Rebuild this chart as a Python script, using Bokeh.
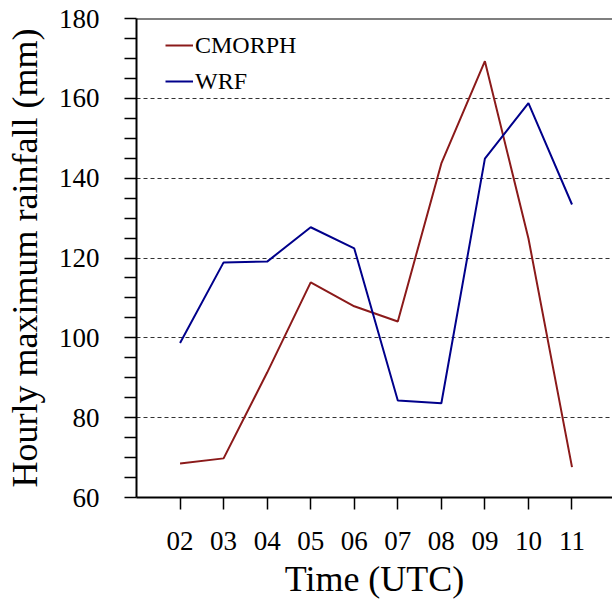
from bokeh.plotting import figure
from bokeh.models import (Range1d, FixedTicker, Legend, LegendItem, Span)
from bokeh.embed import file_html
from bokeh.resources import INLINE

# ---- data ----
hours = ["02", "03", "04", "05", "06", "07", "08", "09", "10", "11"]
cmorph = [68.5, 69.8, 91.3, 113.9, 107.9, 104.1, 143.7, 169.3, 124.9, 67.6]
wrf = [98.7, 118.9, 119.1, 127.7, 122.4, 84.3, 83.6, 144.9, 158.8, 133.4]
y_ticks = [60, 80, 100, 120, 140, 160, 180]

x = [int(h) for h in hours]
FONT = "Liberation Serif"
RED = "#8b1a1a"
BLUE = "#00008b"

p = figure(width=612, height=605, output_backend="svg", toolbar_location=None,
           x_range=Range1d(x[0] - 1, x[-1] + 0.93),
           y_range=Range1d(y_ticks[0], y_ticks[-1]),
           min_border_left=136, min_border_top=18, min_border_right=0,
           min_border_bottom=108)
p.outline_line_color = None
p.background_fill_color = "white"
p.border_fill_color = "white"

r1 = p.line(x, cmorph, line_color=RED, line_width=2)
r2 = p.line(x, wrf, line_color=BLUE, line_width=2)

# top border of the frame
p.add_layout(Span(location=y_ticks[-1], dimension="width", line_color="black", line_width=2))

# axes
p.xaxis.ticker = FixedTicker(ticks=x)
p.xaxis.major_label_overrides = {xi: h for xi, h in zip(x, hours)}
p.yaxis.ticker = FixedTicker(ticks=y_ticks,
                             minor_ticks=[v for v in range(y_ticks[0], y_ticks[-1], 5) if v % 20 != 0])
for ax in (p.xaxis[0], p.yaxis[0]):
    ax.axis_line_width = 2
    ax.axis_line_color = "black"
    ax.major_tick_line_color = "black"
    ax.major_tick_line_width = 1.5
    ax.major_tick_out = 12
    ax.major_tick_in = 0
    ax.major_label_text_font = FONT
    ax.major_label_text_font_size = "27px"
    ax.major_label_text_color = "black"
    ax.axis_label_text_font = FONT
    ax.axis_label_text_font_size = "36px"
    ax.axis_label_text_font_style = "normal"
    ax.axis_label_text_color = "black"

p.xaxis.minor_tick_line_color = None
p.yaxis.minor_tick_line_color = "black"
p.yaxis.minor_tick_line_width = 1.5
p.yaxis.minor_tick_out = 12
p.yaxis.minor_tick_in = 0

p.xaxis.axis_label = "Time (UTC)"
p.yaxis.axis_label = "Hourly maximum rainfall (mm)"
p.xaxis.major_label_standoff = 22
p.yaxis.major_label_standoff = 25
p.xaxis.axis_label_standoff = 6
p.yaxis.axis_label_standoff = 11

# grid
p.xgrid.grid_line_color = None
p.ygrid.ticker = FixedTicker(ticks=y_ticks[1:-1])
p.ygrid.grid_line_color = "#333333"
p.ygrid.grid_line_width = 1
p.ygrid.grid_line_dash = "4 3"

legend = Legend(items=[LegendItem(label="CMORPH", renderers=[r1]),
                       LegendItem(label="WRF", renderers=[r2])],
                location=(29, 401), background_fill_alpha=0, border_line_color=None,
                label_text_font=FONT, label_text_font_size="24px",
                label_text_color="black",
                glyph_width=28, glyph_height=30, label_height=30,
                label_standoff=2, spacing=6, padding=0, margin=0)
p.add_layout(legend)

open("out.html", "w").write(file_html(p, INLINE))
